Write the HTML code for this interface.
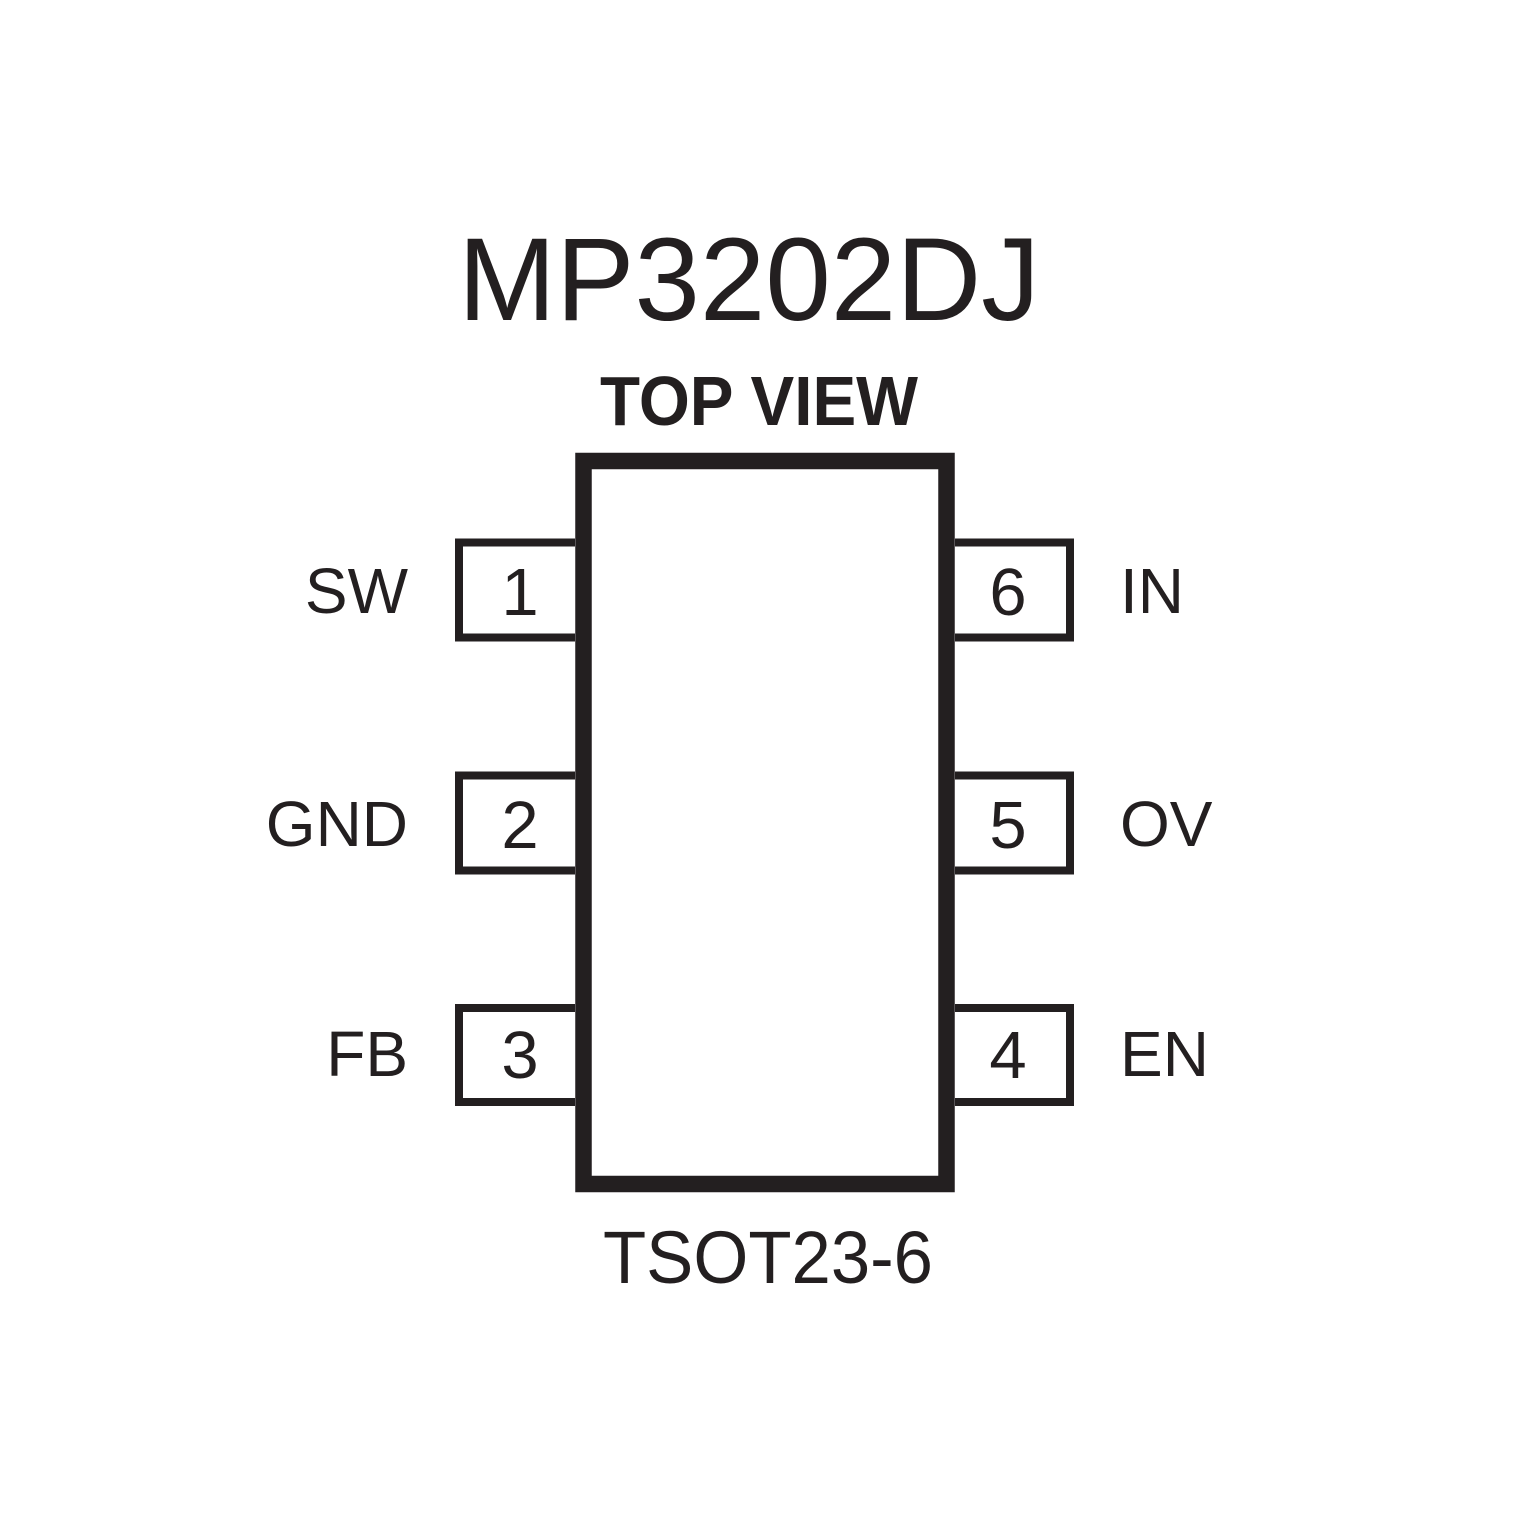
<!DOCTYPE html>
<html><head><style>html,body{margin:0;padding:0;background:#fff}svg{display:block}</style></head>
<body>
<svg width="1535" height="1535" viewBox="0 0 1535 1535" xmlns="http://www.w3.org/2000/svg">
<rect width="1535" height="1535" fill="#fff"/>
<g fill="none" stroke="#231f20">
<rect x="583.5" y="461" width="363" height="723" stroke-width="16.5"/>
<g stroke-width="8">
<path d="M575 542.5H459V637.5H575"/>
<path d="M575 775.5H459V870.5H575"/>
<path d="M575 1008H459V1102H575"/>
<path d="M955 542.5H1070V637.5H955"/>
<path d="M955 775.5H1070V870.5H955"/>
<path d="M955 1008H1070V1102H955"/>
</g>
</g>
<g fill="#231f20" font-family="Liberation Sans, sans-serif">
<text x="458" y="320" font-size="118" textLength="582" lengthAdjust="spacingAndGlyphs">MP3202DJ</text>
<text x="600" y="425" font-size="70" font-weight="bold" textLength="318" lengthAdjust="spacingAndGlyphs">TOP VIEW</text>
<text x="603" y="1283" font-size="74" textLength="330" lengthAdjust="spacingAndGlyphs">TSOT23-6</text>
<g font-size="67" text-anchor="middle">
<text x="520" y="615">1</text><text x="520" y="848">2</text><text x="520" y="1078">3</text>
<text x="1008" y="615">6</text><text x="1008" y="848">5</text><text x="1008" y="1078">4</text>
</g>
<g font-size="64" text-anchor="end">
<text x="408" y="613">SW</text><text x="408" y="846">GND</text><text x="408" y="1076">FB</text>
</g>
<g font-size="64">
<text x="1120" y="613">IN</text><text x="1120" y="846">OV</text><text x="1120" y="1076">EN</text>
</g>
</g>
</svg>
</body></html>
